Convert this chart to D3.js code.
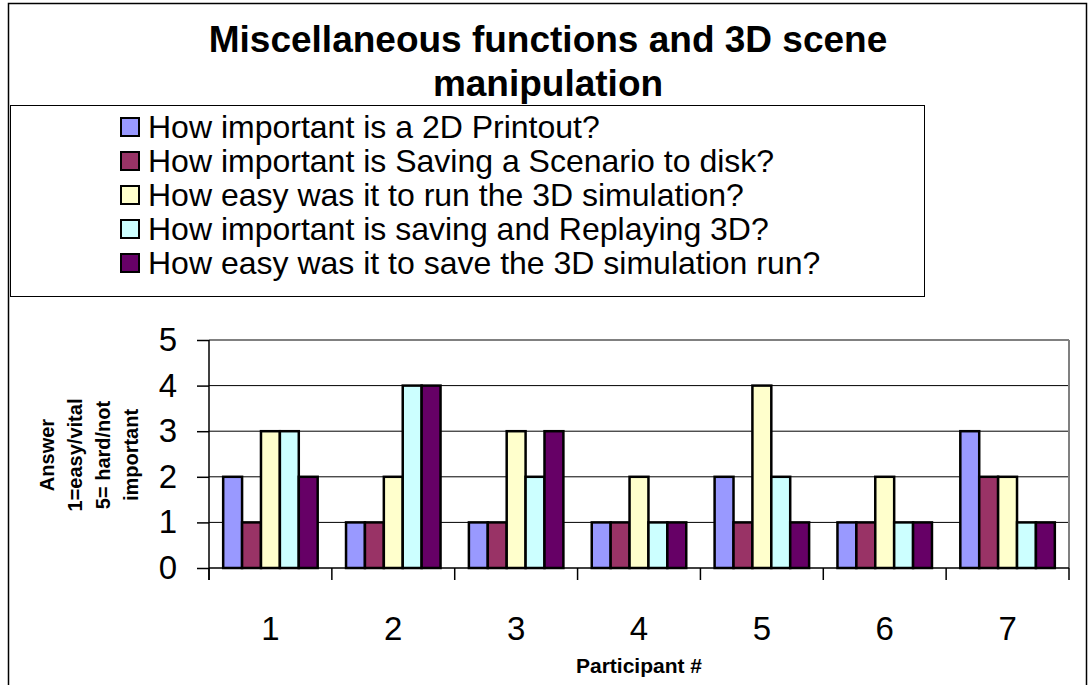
<!DOCTYPE html>
<html>
<head>
<meta charset="utf-8">
<script src="https://cdn.jsdelivr.net/npm/d3@7"></script>
<style>
  html, body { margin: 0; padding: 0; background: #fff; }
  svg { display: block; font-family: "Liberation Sans", Arial, sans-serif; }
</style>
</head>
<body>
<svg id="chart" width="1091" height="685"></svg>
<script>
// Survey answers per participant (1 = easy/vital, 5 = hard/not important)
const participants = ["1", "2", "3", "4", "5", "6", "7"];
const questions = [
  "How important is a 2D Printout?",
  "How important is Saving a Scenario to disk?",
  "How easy was it to run the 3D simulation?",
  "How important is saving and Replaying 3D?",
  "How easy was it to save the 3D simulation run?"
];
const printout       = [2, 1, 1, 1, 2, 1, 3];
const savingScenario = [1, 1, 1, 1, 1, 1, 2];
const runSimulation  = [3, 2, 3, 2, 4, 2, 2];
const replaying      = [3, 4, 2, 1, 2, 1, 1];
const saveRun        = [2, 4, 3, 1, 1, 1, 1];
const yTicks = [0, 1, 2, 3, 4, 5];
const colors = ["#9999FF", "#993366", "#FFFFCC", "#CCFFFF", "#660066"];

const seriesValues = [printout, savingScenario, runSimulation, replaying, saveRun];
const rows = participants.map((p, i) => ({
  participant: p,
  values: questions.map((q, s) => ({ q, s, v: seriesValues[s][i] }))
}));

const svg = d3.select("#chart");
svg.append("rect").attr("width", 1091).attr("height", 685).attr("fill", "#fff");

// Outer chart frame
svg.append("rect")
  .attr("x", 8.5).attr("y", 3.5).attr("width", 1078).attr("height", 700)
  .attr("fill", "none").attr("stroke", "#000").attr("stroke-width", 1.5);

// Title
const title = svg.append("text")
  .attr("text-anchor", "middle")
  .attr("font-weight", "bold").attr("font-size", 37).attr("fill", "#000");
title.append("tspan").attr("x", 548).attr("y", 52).text("Miscellaneous functions and 3D scene");
title.append("tspan").attr("x", 548).attr("y", 96).text("manipulation");

// Legend
const legend = svg.append("g");
legend.append("rect")
  .attr("x", 10.5).attr("y", 105.5).attr("width", 914).attr("height", 191)
  .attr("fill", "#fff").attr("stroke", "#000").attr("stroke-width", 1);
const ly = d3.scalePoint().domain(questions).range([127, 263]);
const li = legend.selectAll("g.item").data(questions).join("g")
  .attr("transform", d => `translate(0,${ly(d)})`);
li.append("rect")
  .attr("x", 121).attr("y", -9).attr("width", 18).attr("height", 18)
  .attr("fill", (d, i) => colors[i]).attr("stroke", "#000").attr("stroke-width", 2);
li.append("text")
  .attr("x", 148).attr("y", 11)
  .attr("font-size", 32).attr("fill", "#000")
  .text(d => d);

// Plot area
const plot = { left: 209, right: 1069, top: 340, bottom: 568 };
const y = d3.scaleLinear().domain([0, 5]).range([plot.bottom, plot.top]);
const x = d3.scaleBand().domain(participants).range([plot.left, plot.right]).padding(0);
const xInner = d3.scaleBand().domain(d3.range(questions.length))
  .range([0, x.bandwidth()]).paddingInner(0).paddingOuter(0.75);

// Gridlines
svg.append("g").selectAll("line").data(yTicks.filter(t => t > 0)).join("line")
  .attr("x1", plot.left).attr("x2", plot.right)
  .attr("y1", d => y(d)).attr("y2", d => y(d))
  .attr("stroke", d => d === 5 ? "#808080" : "#000").attr("stroke-width", d => d === 5 ? 2 : 1);
// Right edge of plot area
svg.append("line")
  .attr("x1", plot.right).attr("x2", plot.right).attr("y1", plot.top).attr("y2", plot.bottom)
  .attr("stroke", "#808080").attr("stroke-width", 2);

// Bars
const groups = svg.append("g").selectAll("g").data(rows).join("g")
  .attr("transform", d => `translate(${x(d.participant)},0)`);
groups.selectAll("rect").data(d => d.values).join("rect")
  .attr("x", d => xInner(d.s))
  .attr("y", d => y(d.v))
  .attr("width", xInner.bandwidth())
  .attr("height", d => y(0) - y(d.v))
  .attr("fill", d => colors[d.s])
  .attr("stroke", "#000").attr("stroke-width", 2.5);

// Y axis
const yAxis = svg.append("g")
  .attr("transform", `translate(${plot.left},0)`)
  .call(d3.axisLeft(y).tickValues(yTicks).tickFormat(d3.format("d")).tickSize(12).tickPadding(20));
yAxis.select(".domain").attr("stroke", "#000").attr("stroke-width", 1.5)
  .attr("d", `M0,${plot.top}V${plot.bottom + 12}`);
yAxis.selectAll(".tick line").attr("stroke", "#000").attr("stroke-width", 1.5);
yAxis.selectAll(".tick text")
  .attr("font-size", 33).attr("fill", "#000")
  .attr("font-family", "Liberation Sans, Arial, sans-serif");

// X axis: ticks at category boundaries, labels at centres
const xAxisG = svg.append("g").attr("transform", `translate(0,${plot.bottom})`);
xAxisG.append("line")
  .attr("x1", plot.left).attr("x2", plot.right)
  .attr("stroke", "#000").attr("stroke-width", 1.5);
const boundaries = participants.map(p => x(p)).concat([x(participants[participants.length - 1]) + x.bandwidth()]);
xAxisG.selectAll("line.tick").data(boundaries).join("line")
  .attr("class", "tick")
  .attr("x1", d => d).attr("x2", d => d).attr("y1", 0).attr("y2", 12)
  .attr("stroke", "#000").attr("stroke-width", 1.5);
xAxisG.selectAll("text").data(participants).join("text")
  .attr("x", d => x(d) + x.bandwidth() / 2).attr("y", 72)
  .attr("text-anchor", "middle").attr("font-size", 33).attr("fill", "#000")
  .text(d => d);

// Axis titles
svg.append("text")
  .attr("x", 639).attr("y", 673)
  .attr("text-anchor", "middle").attr("font-weight", "bold").attr("font-size", 21)
  .text("Participant #");

const yTitleLines = ["Answer", "1=easy/vital", "5= hard/not", "important"];
const yTitle = svg.append("text")
  .attr("transform", "translate(0,455) rotate(-90)")
  .attr("text-anchor", "middle").attr("font-weight", "bold").attr("font-size", 20);
yTitle.selectAll("tspan").data(yTitleLines).join("tspan")
  .attr("x", 0).attr("y", (d, i) => 54 + i * 28)
  .text(d => d);
</script>
</body>
</html>
